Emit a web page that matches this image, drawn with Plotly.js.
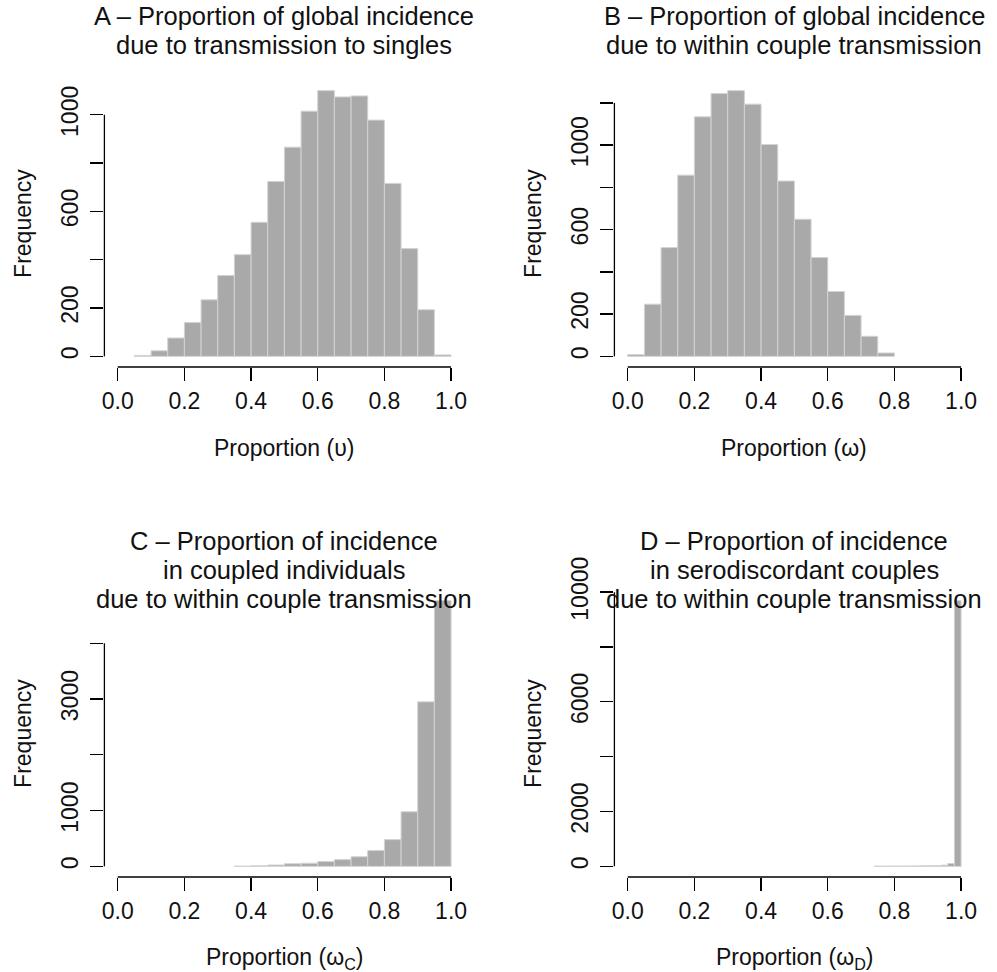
<!DOCTYPE html>
<html>
<head>
<meta charset="utf-8">
<script src="https://cdn.plot.ly/plotly-3.0.1.min.js"></script>
<style>
  html, body { margin: 0; padding: 0; background: #ffffff; }
  #chart { width: 997px; height: 972px; }
</style>
</head>
<body>
<div id="chart"></div>
<script>
// ---------------- DATA ----------------
// Panel A: proportion of global incidence due to transmission to singles (bin width 0.05)
const binStartsA = [0.05, 0.10, 0.15, 0.20, 0.25, 0.30, 0.35, 0.40, 0.45, 0.50, 0.55, 0.60, 0.65, 0.70, 0.75, 0.80, 0.85, 0.90, 0.95];
const countsA    = [4, 23, 76, 140, 234, 335, 421, 555, 724, 866, 1015, 1100, 1074, 1078, 978, 716, 446, 193, 6];
const yLabeledA  = [0, 200, 600, 1000];
const yMinorA    = [400, 800];

// Panel B: proportion of global incidence due to within couple transmission (bin width 0.05)
const binStartsB = [0.00, 0.05, 0.10, 0.15, 0.20, 0.25, 0.30, 0.35, 0.40, 0.45, 0.50, 0.55, 0.60, 0.65, 0.70, 0.75];
const countsB    = [8, 247, 515, 858, 1134, 1244, 1258, 1194, 1003, 830, 649, 468, 307, 194, 95, 16];
const yLabeledB  = [0, 200, 600, 1000];
const yMinorB    = [400, 800, 1200];

// Panel C: proportion of incidence in coupled individuals due to within couple transmission (bin width 0.05)
const binStartsC = [0.35, 0.40, 0.45, 0.50, 0.55, 0.60, 0.65, 0.70, 0.75, 0.80, 0.85, 0.90, 0.95];
const countsC    = [4, 10, 24, 48, 56, 86, 121, 172, 284, 480, 979, 2949, 4764];
const yLabeledC  = [0, 1000, 3000];
const yMinorC    = [2000, 4000];

// Panel D: proportion of incidence in serodiscordant couples due to within couple transmission (bin width 0.02)
const binStartsD = [0.74, 0.76, 0.78, 0.80, 0.82, 0.84, 0.86, 0.88, 0.90, 0.92, 0.94, 0.96, 0.98];
const countsD    = [8, 8, 10, 10, 12, 14, 16, 20, 26, 32, 45, 105, 9690];
const yLabeledD  = [0, 2000, 6000, 10000];
const yMinorD    = [4000, 8000];

const xTicks     = [0, 0.2, 0.4, 0.6, 0.8, 1.0];
const xLabels    = ["0.0", "0.2", "0.4", "0.6", "0.8", "1.0"];

const titleA = ["A \u2013 Proportion of global incidence", "due to transmission to singles"];
const titleB = ["B \u2013 Proportion of global incidence", "due to within couple transmission"];
const titleC = ["C \u2013 Proportion of incidence", "in coupled individuals", "due to within couple transmission"];
const titleD = ["D \u2013 Proportion of incidence", "in serodiscordant couples", "due to within couple transmission"];

const xTitleA = "Proportion (\u03c5)";
const xTitleB = "Proportion (\u03c9)";
const xTitleC = "Proportion (\u03c9<sub>C</sub>)";
const xTitleD = "Proportion (\u03c9<sub>D</sub>)";
const yTitle  = "Frequency";

// ---------------- STYLE / LAYOUT ----------------
const W = 997, H = 972;
const FONT = "Liberation Sans, Arial, Helvetica, sans-serif";
const TXT = "#111111";
const BAR_FILL = "#a9a9a9";
const BAR_EDGE = "#d3d3d3";
const AX = "#000000";
const TITLE_SIZE = 25.5;
const LABEL_SIZE = 23;

const fx = px => px / W;
const fy = py => 1 - py / H;

const panels = [
  { bins: binStartsA, counts: countsA, width: 0.05, yl: yLabeledA, ym: yMinorA, title: titleA, xt: xTitleA,
    left: 104.4, right: 464.4, top: 80, bottom: 367, titleY: [16, 45] },
  { bins: binStartsB, counts: countsB, width: 0.05, yl: yLabeledB, ym: yMinorB, title: titleB, xt: xTitleB,
    left: 614.4, right: 974.4, top: 80, bottom: 367, titleY: [16, 45] },
  { bins: binStartsC, counts: countsC, width: 0.05, yl: yLabeledC, ym: yMinorC, title: titleC, xt: xTitleC,
    left: 104.4, right: 464.4, top: 590, bottom: 877, titleY: [541, 570, 599] },
  { bins: binStartsD, counts: countsD, width: 0.02, yl: yLabeledD, ym: yMinorD, title: titleD, xt: xTitleD,
    left: 614.4, right: 974.4, top: 590, bottom: 877, titleY: [541, 570, 599] }
];

const traces = [];
const layout = {
  width: W, height: H, autosize: false,
  margin: { l: 0, r: 0, t: 0, b: 0, pad: 0 },
  paper_bgcolor: "#ffffff", plot_bgcolor: "#ffffff",
  showlegend: false,
  font: { family: FONT, color: TXT, size: LABEL_SIZE },
  shapes: [], annotations: []
};

panels.forEach((p, i) => {
  const n = i + 1;
  const xa = n === 1 ? "x" : "x" + n;
  const ya = n === 1 ? "y" : "y" + n;
  const xKey = n === 1 ? "xaxis" : "xaxis" + n;
  const yKey = n === 1 ? "yaxis" : "yaxis" + n;
  const maxC = Math.max(...p.counts);
  const allY = p.yl.concat(p.ym);
  const yMin = Math.min(...allY), yMax = Math.max(...allY);

  traces.push({
    type: "bar", x: p.bins, y: p.counts, width: p.width, offset: 0,
    xaxis: xa, yaxis: ya,
    marker: { color: BAR_FILL, line: { color: BAR_EDGE, width: 1 } },
    hoverinfo: "x+y"
  });

  layout[xKey] = {
    domain: [fx(p.left), fx(p.right)], anchor: ya,
    range: [-0.04, 1.04],
    tickmode: "array", tickvals: xTicks, ticktext: xLabels,
    ticks: "outside", ticklen: 13, tickwidth: 1.3, tickcolor: AX,
    showgrid: false, zeroline: false, showline: false,
    tickfont: { family: FONT, size: LABEL_SIZE, color: TXT },
    fixedrange: true
  };
  layout[yKey] = {
    domain: [fy(p.bottom), fy(p.top)], anchor: xa,
    range: [-0.04 * maxC, 1.04 * maxC],
    tickmode: "array", tickvals: p.yl, ticktext: p.yl.map(String), tickangle: -90,
    ticks: "outside", ticklen: 13, tickwidth: 1.3, tickcolor: AX,
    ticklabelstandoff: 3,
    minor: { tickmode: "array", tickvals: p.ym, ticks: "outside", ticklen: 13, tickwidth: 1.3, tickcolor: AX, showgrid: false },
    showgrid: false, zeroline: false, showline: false,
    tickfont: { family: FONT, size: LABEL_SIZE, color: TXT },
    fixedrange: true
  };

  // R-style axis lines spanning first to last tick
  layout.shapes.push({
    type: "line", xref: xa + " domain", yref: ya,
    x0: 0, x1: 0, y0: yMin, y1: yMax,
    line: { color: AX, width: 1.3 }
  });
  layout.shapes.push({
    type: "line", xref: xa, yref: ya + " domain",
    x0: xTicks[0], x1: xTicks[xTicks.length - 1], y0: 0, y1: 0,
    line: { color: AX, width: 1.3 }
  });

  const cx = (p.left + p.right) / 2;
  p.title.forEach((line, k) => {
    layout.annotations.push({
      text: line, xref: "paper", yref: "paper",
      x: fx(cx), y: fy(p.titleY[k]), xanchor: "center", yanchor: "middle",
      showarrow: false, font: { family: FONT, size: TITLE_SIZE, color: TXT }
    });
  });
  // x axis title
  layout.annotations.push({
    text: p.xt, xref: "paper", yref: "paper",
    x: fx(cx), y: fy(p.bottom + 81), xanchor: "center", yanchor: "middle",
    showarrow: false, font: { family: FONT, size: LABEL_SIZE, color: TXT }
  });
  // y axis title
  layout.annotations.push({
    text: yTitle, xref: "paper", yref: "paper", textangle: -90,
    x: fx(p.left - 82), y: fy((p.top + p.bottom) / 2), xanchor: "center", yanchor: "middle",
    showarrow: false, font: { family: FONT, size: LABEL_SIZE, color: TXT }
  });
});

Plotly.newPlot("chart", traces, layout, { displayModeBar: false, staticPlot: true });
</script>
</body>
</html>
